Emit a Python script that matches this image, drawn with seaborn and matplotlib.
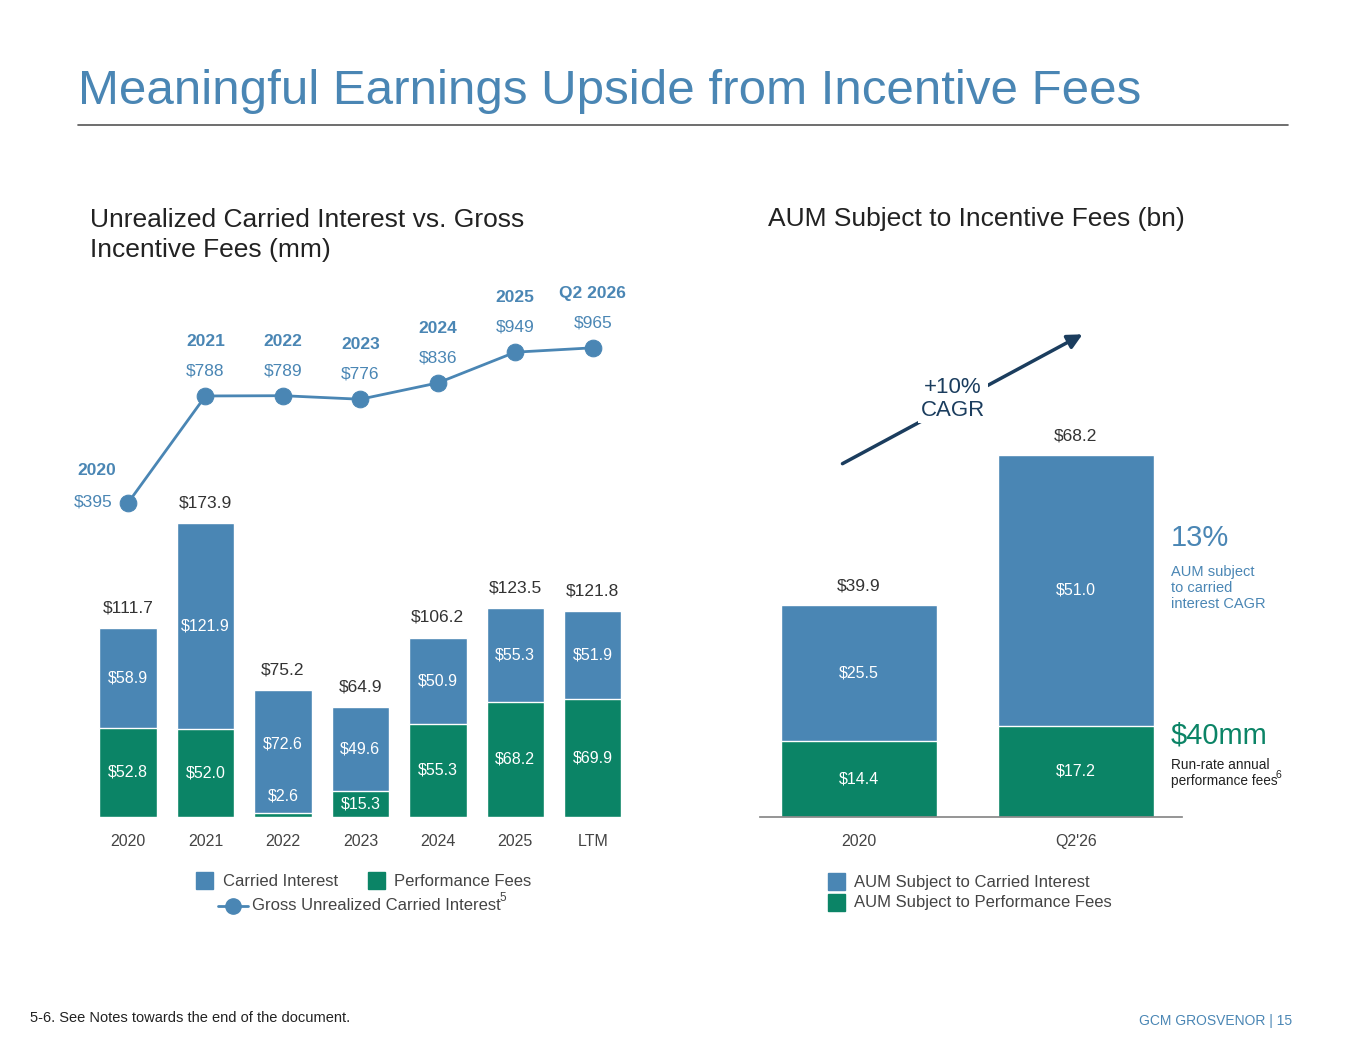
import matplotlib.pyplot as plt
import matplotlib.patches as mpatches
import matplotlib.lines as mlines
import seaborn as sns
import pandas as pd

BLUE = '#4A86B4'
GREEN = '#0B8466'
NAVY = '#1B3D5E'
GREY = '#555555'

# left chart data
years = ['2020', '2021', '2022', '2023', '2024', '2025', 'LTM']
perf_fees = [52.8, 52.0, 2.6, 15.3, 55.3, 68.2, 69.9]
carried = [58.9, 121.9, 72.6, 49.6, 50.9, 55.3, 51.9]
totals = [111.7, 173.9, 75.2, 64.9, 106.2, 123.5, 121.8]
line_labels = ['2020', '2021', '2022', '2023', '2024', '2025', 'Q2 2026']
gross_unrealized = [395, 788, 789, 776, 836, 949, 965]

# right chart data
aum_periods = ['2020', "Q2'26"]
aum_perf = [14.4, 17.2]
aum_carried = [25.5, 51.0]
aum_totals = [39.9, 68.2]

W, H = 1365, 1055
sns.set_theme(style='white')
plt.rcParams['font.family'] = ['Liberation Sans', 'DejaVu Sans']
fig = plt.figure(figsize=(W / 100, H / 100), dpi=100)


def px(x, y):
    return x / W, 1 - y / H


def ptext(x, y, s, **kw):
    fig.text(*px(x, y), s, **kw)


def axes_px(left, top, right, bottom):
    return fig.add_axes([left / W, 1 - bottom / H, (right - left) / W, (bottom - top) / H])


# title
ptext(78, 92, 'Meaningful Earnings Upside from Incentive Fees', color=BLUE, fontsize=35.5, va='center')
fig.add_artist(mlines.Line2D([78 / W, 1288 / W], [1 - 125 / H] * 2, color=GREY, lw=1.2))
ptext(90, 235, 'Unrealized Carried Interest vs. Gross\nIncentive Fees (mm)', fontsize=19,
      color='#222222', va='center', linespacing=1.35)
ptext(768, 219, 'AUM Subject to Incentive Fees (bn)', fontsize=19, color='#222222', va='center')

# ---- left chart ----
ax = axes_px(80, 310, 640, 817)
df = pd.DataFrame({'year': years, 'perf': perf_fees, 'carried': carried})
df['total'] = df['perf'] + df['carried']
sns.barplot(data=df, x='year', y='total', color=BLUE, width=0.74, ax=ax, saturation=1)
sns.barplot(data=df, x='year', y='perf', color=GREEN, width=0.74, ax=ax, saturation=1)
ax.set_xlim(-0.62, 6.61)
ax.set_ylim(0, 300)
ax.set_xlabel('')
ax.set_ylabel('')
ax.set_yticks([])
ax.tick_params(axis='x', length=0, labelsize=11.5, labelcolor='#444444', pad=12)
for s in ax.spines.values():
    s.set_visible(False)
for i in range(len(years)):
    p, c, t = perf_fees[i], carried[i], totals[i]
    if p > 10:
        ax.text(i, p / 2, f'${p}', ha='center', va='center', color='white', fontsize=11.5)
        ax.text(i, p + c / 2, f'${c}', ha='center', va='center', color='white', fontsize=11.5)
    else:
        ax.text(i, p + 10, f'${p}', ha='center', va='center', color='white', fontsize=11.5)
        ax.text(i, p + c / 2 + 4, f'${c}', ha='center', va='center', color='white', fontsize=11.5)
    ax.text(i, t + 12, f'${t}', ha='center', va='center', color='#333333', fontsize=12.5)

ax2 = ax.twinx()
sns.lineplot(x=list(range(len(years))), y=gross_unrealized, ax=ax2, color=BLUE, lw=2,
             marker='o', markersize=12, markeredgecolor=BLUE)
ax2.set_ylim(-759.6, 1104)
ax2.set_yticks([])
for s in ax2.spines.values():
    s.set_visible(False)
for i, (lab, v) in enumerate(zip(line_labels, gross_unrealized)):
    if i == 0:
        ax2.text(i - 0.45, v + 5, f'${v}', ha='center', va='center', color=BLUE, fontsize=12.5)
        ax2.text(i - 0.4, v + 120, lab, ha='center', va='center', color=BLUE, fontsize=12.5,
                 fontweight='bold')
    else:
        ax2.text(i, v + 92, f'${v}', ha='center', va='center', color=BLUE, fontsize=12.5)
        ax2.text(i, v + 200, lab, ha='center', va='center', color=BLUE, fontsize=12.5,
                 fontweight='bold')

# left legend
fig.add_artist(mpatches.Rectangle(px(196, 889), 17 / W, 17 / H, color=BLUE))
ptext(223, 881, 'Carried Interest', fontsize=12, color='#444444', va='center')
fig.add_artist(mpatches.Rectangle(px(368, 889), 17 / W, 17 / H, color=GREEN))
ptext(394, 881, 'Performance Fees', fontsize=12, color='#444444', va='center')
fig.add_artist(mlines.Line2D([218 / W, 248 / W], [1 - 906 / H] * 2, color=BLUE, lw=2))
fig.add_artist(mlines.Line2D([233 / W], [1 - 906 / H], color=BLUE, marker='o', markersize=11))
ptext(252, 906, 'Gross Unrealized Carried Interest', fontsize=12, color='#444444', va='center')
ptext(499, 898, '5', fontsize=8.5, color='#444444', va='center')

# ---- right chart ----
axr = axes_px(760, 310, 1182, 817)
dfr = pd.DataFrame({'period': aum_periods, 'perf': aum_perf, 'carried': aum_carried})
dfr['total'] = dfr['perf'] + dfr['carried']
sns.barplot(data=dfr, x='period', y='total', color=BLUE, width=0.72, ax=axr, saturation=1)
sns.barplot(data=dfr, x='period', y='perf', color=GREEN, width=0.72, ax=axr, saturation=1)
axr.set_xlim(-0.456, 1.489)
axr.set_ylim(0, 507 / 5.31)
axr.set_xlabel('')
axr.set_ylabel('')
axr.set_yticks([])
axr.tick_params(axis='x', length=0, labelsize=11.5, labelcolor='#444444', pad=12)
for k, s in axr.spines.items():
    s.set_visible(k == 'bottom')
axr.spines['bottom'].set_color('#888888')
for i in range(2):
    p, c, t = aum_perf[i], aum_carried[i], aum_totals[i]
    axr.text(i, p / 2, f'${p}', ha='center', va='center', color='white', fontsize=11.5)
    axr.text(i, p + c / 2, f'${c}', ha='center', va='center', color='white', fontsize=11.5)
    axr.text(i, t + 3.6, f'${t}', ha='center', va='center', color='#333333', fontsize=12.5)

fig.add_artist(mpatches.FancyArrowPatch(px(840, 465), px(1085, 333), arrowstyle='-|>',
                                        mutation_scale=22, color=NAVY, lw=2.5))
ptext(953, 399, '+10%\nCAGR', fontsize=16, color=NAVY, ha='center', va='center',
      linespacing=1.1, bbox=dict(facecolor='white', edgecolor='none', pad=2))

ptext(1171, 538, '13%', fontsize=21, color=BLUE, va='center')
ptext(1171, 588, 'AUM subject\nto carried\ninterest CAGR', fontsize=10.5, color=BLUE,
      va='center', linespacing=1.15)
ptext(1171, 736, '$40mm', fontsize=21, color=GREEN, va='center')
ptext(1171, 773, 'Run-rate annual\nperformance fees', fontsize=9.8, color='#222222',
      va='center', linespacing=1.2)
ptext(1276, 775, '6', fontsize=7.5, color='#222222', va='center')

fig.add_artist(mpatches.Rectangle(px(828, 890), 17 / W, 17 / H, color=BLUE))
ptext(854, 882, 'AUM Subject to Carried Interest', fontsize=12, color='#444444', va='center')
fig.add_artist(mpatches.Rectangle(px(828, 911), 17 / W, 17 / H, color=GREEN))
ptext(854, 903, 'AUM Subject to Performance Fees', fontsize=12, color='#444444', va='center')

ptext(30, 1018, '5-6. See Notes towards the end of the document.', fontsize=10.5,
      color='#222222', va='center')
ptext(1292, 1021, 'GCM GROSVENOR | 15', fontsize=10, color=BLUE, va='center', ha='right')

fig.savefig('out.png', dpi=100)
